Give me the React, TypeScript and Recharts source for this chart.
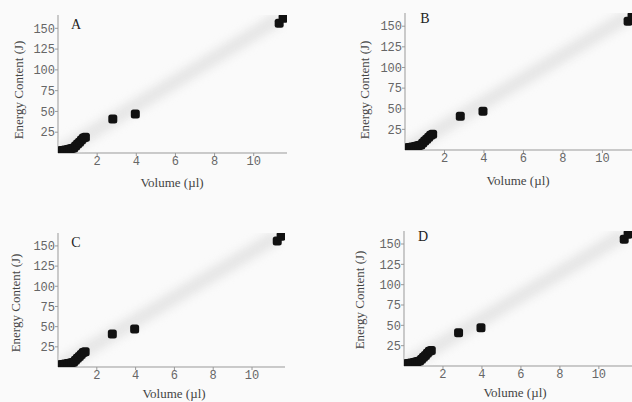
import { Scatter, ScatterChart, XAxis, YAxis } from "recharts";

const volume = [0.05, 0.2, 0.35, 0.5, 0.6, 0.7, 0.8, 0.9, 1.0, 1.1, 1.2, 1.3, 1.4, 2.8, 3.95, 11.3, 11.5];
const energy = [2.4, 3, 3.6, 4.2, 4.8, 5.4, 6, 8.4, 10.8, 13, 15.6, 18, 19, 41, 47, 156, 162];

const fitVolume = [0, 11.3];
const fitEnergy = [0, 162];

const xTicks = [2, 4, 6, 8, 10];
const yTicks = [25, 50, 75, 100, 125, 150];

const points = volume.map((v, i) => ({ v, e: energy[i] }));
const fit = fitVolume.map((v, i) => ({ v, e: fitEnergy[i] }));

type PanelProps = {
	letter: string;
	left: number;
	top: number;
	width: number;
	height: number;
	margin: { top: number; right: number; bottom: number; left: number };
	xTitle: [number, number];
	yTitle: [number, number];
	letterPos: [number, number];
};

const Square = (props: any) => {
	const { cx, cy } = props;
	if (cx == null || cy == null) return <g />;
	return <rect x={cx - 4.5} y={cy - 4.5} width={9} height={9} rx={2.5} fill="#111" />;
};

const tickStyle = { fontFamily: "Liberation Mono", fontSize: 12, fill: "#666" };
const titleStyle = { fontFamily: "Liberation Serif", fontSize: 13, fill: "#444" };

function Panel({ letter, left, top, width, height, margin, xTitle, yTitle, letterPos }: PanelProps) {
	return (
		<div style={{ position: "absolute", left, top }}>
			<ScatterChart width={width} height={height} margin={margin}>
				<XAxis
					type="number"
					dataKey="v"
					domain={[0, 11.7]}
					ticks={xTicks}
					height={20}
					tickSize={3}
					tickMargin={0}
					stroke="#999"
					tick={tickStyle}
					allowDataOverflow
				/>
				<YAxis
					type="number"
					dataKey="e"
					domain={[0, 166]}
					ticks={yTicks}
					width={58}
					tickSize={3}
					tickMargin={0}
					stroke="#999"
					tick={tickStyle}
					allowDataOverflow
				/>
				<Scatter
					data={fit}
					line={{ stroke: "#e6e6e6", strokeWidth: 14, style: { filter: "blur(4px)" } }}
					shape={() => <g />}
					isAnimationActive={false}
				/>
				<Scatter data={points} shape={<Square />} isAnimationActive={false} />
				<text x={xTitle[0]} y={xTitle[1]} textAnchor="middle" dominantBaseline="central" style={titleStyle}>
					Volume (µl)
				</text>
				<text
					x={yTitle[0]}
					y={yTitle[1]}
					textAnchor="middle"
					dominantBaseline="central"
					transform={`rotate(-90 ${yTitle[0]} ${yTitle[1]})`}
					style={titleStyle}
				>
					Energy Content (J)
				</text>
				<text
					x={letterPos[0]}
					y={letterPos[1]}
					textAnchor="middle"
					dominantBaseline="central"
					style={{ fontFamily: "Liberation Serif", fontSize: 14, fill: "#222" }}
				>
					{letter}
				</text>
			</ScatterChart>
		</div>
	);
}

export default function App() {
	return (
		<div
			style={{
				position: "absolute",
				left: 0,
				top: 0,
				width: 632,
				height: 402,
				overflow: "hidden",
				background: "#fafafa",
			}}
		>
			<Panel
				letter="A"
				left={0}
				top={0}
				width={316}
				height={200}
				margin={{ top: 15, right: 29, bottom: 27, left: 0 }}
				xTitle={[172, 182]}
				yTitle={[18, 90]}
				letterPos={[76, 24]}
			/>
			<Panel
				letter="B"
				left={316}
				top={0}
				width={330}
				height={200}
				margin={{ top: 13, right: 10, bottom: 30, left: 31 }}
				xTitle={[202, 180]}
				yTitle={[48, 90]}
				letterPos={[109, 18]}
			/>
			<Panel
				letter="C"
				left={0}
				top={200}
				width={316}
				height={202}
				margin={{ top: 33, right: 31, bottom: 15, left: 0 }}
				xTitle={[174, 193]}
				yTitle={[15, 103]}
				letterPos={[76, 42]}
			/>
			<Panel
				letter="D"
				left={316}
				top={200}
				width={330}
				height={202}
				margin={{ top: 31, right: 14, bottom: 16, left: 30 }}
				xTitle={[199, 192]}
				yTitle={[43, 100]}
				letterPos={[107, 36]}
			/>
		</div>
	);
}
